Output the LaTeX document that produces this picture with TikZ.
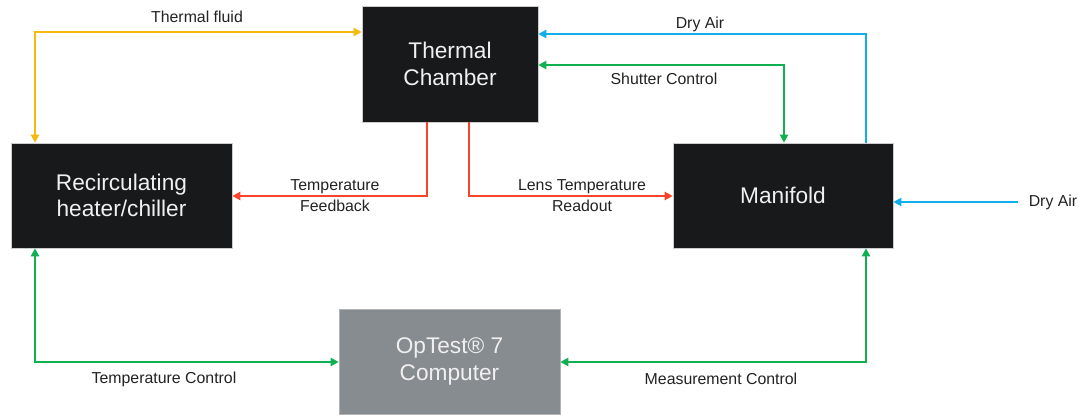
\documentclass[tikz,border=0pt]{standalone}
\usepackage{fontspec}
\setmainfont{Liberation Sans}
\usetikzlibrary{arrows.meta}
\definecolor{boxblack}{HTML}{18191B}
\definecolor{boxgray}{HTML}{868C90}
\definecolor{cyel}{HTML}{F5B90F}
\definecolor{cblue}{HTML}{10AEEB}
\definecolor{cgreen}{HTML}{10B050}
\definecolor{cred}{HTML}{F8452A}
\definecolor{ctext}{HTML}{222222}
\begin{document}
\begin{tikzpicture}[x=0.75pt,y=-0.75pt,
  blk/.style={rectangle, fill=boxblack, draw=gray!40, line width=0.4pt, text=white!94!black,
    font=\fontsize{17}{20}\selectfont, align=center, inner sep=0pt},
  gblk/.style={blk, fill=boxgray, draw=gray!60},
  lab/.style={font=\fontsize{11.9}{15.8}\selectfont, text=ctext, align=center, inner sep=0pt},
  conn/.style={line width=1.5pt, arrows={-Triangle[length=6pt,width=6pt]}},
  conn2/.style={line width=1.5pt, arrows={Triangle[length=6pt,width=6pt]-Triangle[length=6pt,width=6pt]}}]
\useasboundingbox (0,0) rectangle (1087,414);

% boxes
\node[blk, minimum width=132pt, minimum height=87pt] (TC) at (450,64) {Thermal\\Chamber};
\node[blk, minimum width=165.75pt, minimum height=78.75pt] (RH) at (121.5,195.5) {Recirculating\\heater/chiller};
\node[blk, minimum width=165pt, minimum height=78.75pt] (MF) at (783,195.5) {Manifold};
\node[gblk, minimum width=165.75pt, minimum height=78.75pt] (OT) at (449.5,361.5) {OpTest® 7\\Computer};

% coordinates
\coordinate (tf) at (35,32);
\coordinate (da) at (866,34);
\coordinate (sc) at (784,65);
\coordinate (ds) at (1018,202);
\coordinate (fb) at (427,196);
\coordinate (lt) at (469,196);
\coordinate (tcc) at (35,362);
\coordinate (mcc) at (866,362);

% connectors
\draw[conn2, cyel] (TC.west |- tf) -- (tf) -- (tf |- RH.north);
\draw[conn, cblue] (da |- MF.north) -- (da) -- (TC.east |- da);
\draw[conn2, cgreen] (TC.east |- sc) -- (sc) -- (sc |- MF.north);
\draw[conn, cblue] (ds) -- (MF.east |- ds);
\draw[conn, cred] (fb |- TC.south) -- (fb) -- (RH.east |- fb);
\draw[conn, cred] (lt |- TC.south) -- (lt) -- (MF.west |- lt);
\draw[conn2, cgreen] (tcc |- RH.south) -- (tcc) -- (OT.west |- tcc);
\draw[conn2, cgreen] (mcc |- MF.south) -- (mcc) -- (OT.east |- mcc);

% labels
\node[lab] (l1) at (197,17) {Thermal fluid};
\node[lab] (l2) at (700,24) {Dry Air};
\node[lab] (l3) at (664,79) {Shutter Control};
\node[lab] (l4) at (1053,202) {Dry Air};
\node[lab] (l5) at (335,196) {Temperature\\Feedback};
\node[lab] (l6) at (582,196) {Lens Temperature\\Readout};
\node[lab] (l7) at (164,379) {Temperature Control};
\node[lab] (l8) at (721,379) {Measurement Control};
\end{tikzpicture}
\end{document}
